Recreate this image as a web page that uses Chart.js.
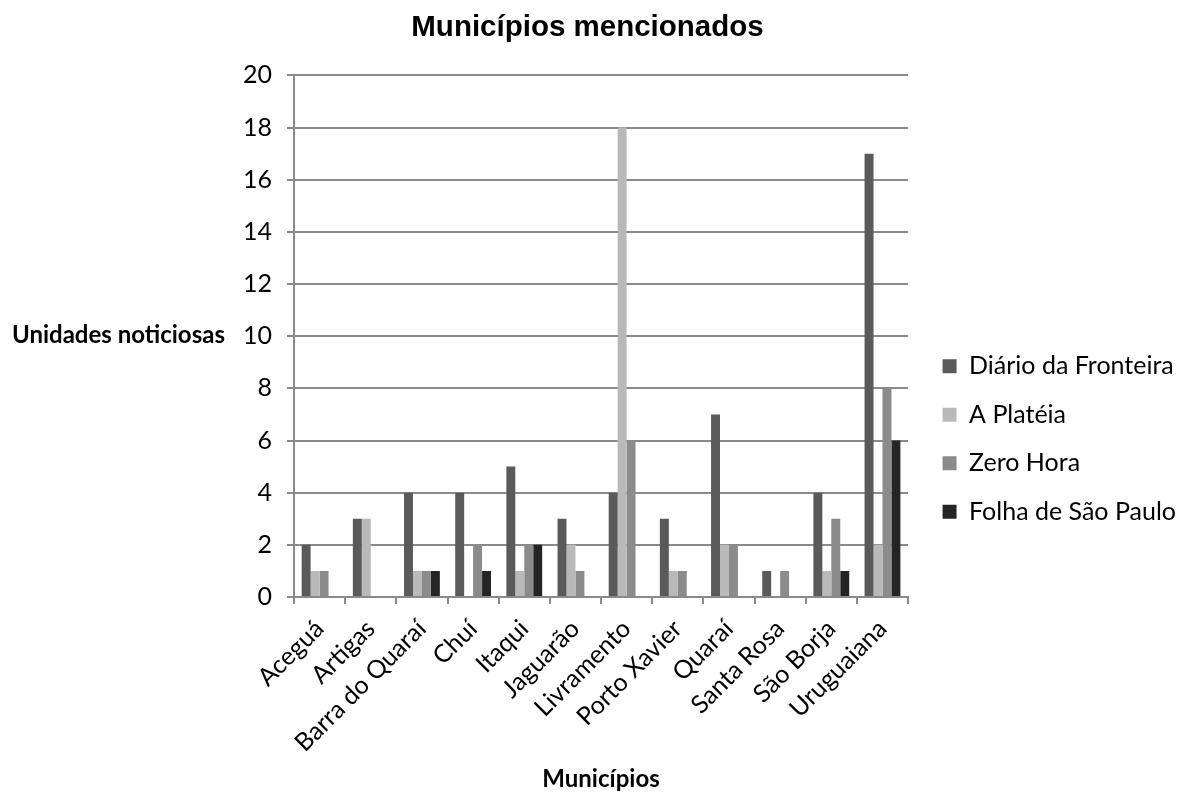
<!DOCTYPE html>
<html>
<head>
<meta charset="utf-8">
<script src="https://cdn.jsdelivr.net/npm/chart.js@4.4.1/dist/chart.umd.min.js"></script>
<style>
  html, body { margin: 0; padding: 0; background: #ffffff; }
  #wrap { width: 1180px; height: 794px; }
</style>
</head>
<body>
<div id="wrap"><canvas id="chart" width="1180" height="794"></canvas></div>
<script>
// Municípios e número de unidades noticiosas por jornal
const municipios = ['Aceguá', 'Artigas', 'Barra do Quaraí', 'Chuí', 'Itaqui', 'Jaguarão',
  'Livramento', 'Porto Xavier', 'Quaraí', 'Santa Rosa', 'São Borja', 'Uruguaiana'];
const diarioDaFronteira = [2, 3, 4, 4, 5, 3, 4, 3, 7, 1, 4, 17];
const aPlateia          = [1, 3, 1, 0, 1, 2, 18, 1, 2, 0, 1, 2];
const zeroHora          = [1, 0, 1, 2, 2, 1, 6, 1, 2, 1, 3, 8];
const folhaDeSaoPaulo   = [0, 0, 1, 1, 2, 0, 0, 0, 0, 0, 1, 6];
const serieNomes = ['Diário da Fronteira', 'A Platéia', 'Zero Hora', 'Folha de São Paulo'];
const yTicks = [0, 2, 4, 6, 8, 10, 12, 14, 16, 18, 20];

const FONT = 'Lato, "Liberation Sans", sans-serif';
const TITLE_FONT = '"Liberation Sans", Arial, sans-serif';
const GRID = '#8a8a8a';

// Horizontal title for the value axis, written to the left of the tick labels
const yAxisTitle = {
  id: 'yAxisTitle',
  afterDraw(chart) {
    const { ctx, chartArea } = chart;
    ctx.save();
    ctx.font = 'bold 24px ' + FONT;
    ctx.fillStyle = '#000';
    ctx.textAlign = 'left';
    ctx.textBaseline = 'middle';
    ctx.fillText('Unidades noticiosas', 12, (chartArea.top + chartArea.bottom) / 2 - 1);
    ctx.restore();
  }
};

// Moves the legend block to its place beside the plot
const legendPlacement = {
  id: 'legendPlacement',
  afterLayout(chart) {
    const lg = chart.legend;
    if (!lg) return;
    const dx = 11, dy = 42;
    lg.left += dx; lg.right += dx;
    lg.top += dy; lg.bottom += dy;
  }
};

new Chart(document.getElementById('chart'), {
  type: 'bar',
  data: {
    labels: municipios,
    datasets: [
      { label: serieNomes[0], data: diarioDaFronteira, backgroundColor: '#5a5a5a' },
      { label: serieNomes[1], data: aPlateia,          backgroundColor: '#b9b9b9' },
      { label: serieNomes[2], data: zeroHora,          backgroundColor: '#8b8b8b' },
      { label: serieNomes[3], data: folhaDeSaoPaulo,   backgroundColor: '#252525' }
    ]
  },
  options: {
    responsive: false,
    animation: false,
    layout: { padding: { left: 0, right: 5, top: 0, bottom: 0 } },
    datasets: { bar: { categoryPercentage: 0.70, barPercentage: 1.0 } },
    plugins: {
      title: {
        display: true,
        text: 'Municípios mencionados',
        fullSize: true,
        color: '#000',
        font: { family: TITLE_FONT, size: 29.5, weight: 'bold' },
        padding: { top: 10, bottom: 30 }
      },
      legend: {
        position: 'right',
        align: 'center',
        labels: {
          color: '#000',
          font: { family: FONT, size: 25 },
          boxWidth: 14,
          boxHeight: 14,
          padding: 23.5
        }
      },
      tooltip: { enabled: false }
    },
    scales: {
      x: {
        offset: true,
        grid: { display: true, drawOnChartArea: false, drawTicks: true, tickLength: 7, color: GRID, lineWidth: 2, offset: true },
        border: { display: true, color: GRID, width: 2 },
        ticks: { color: '#000', font: { family: FONT, size: 25 }, minRotation: 45, maxRotation: 45, autoSkip: false, padding: 10 },
        title: { display: true, text: 'Municípios', color: '#000', font: { family: FONT, size: 24, weight: 'bold' }, padding: { top: 0, bottom: 0 } },
        afterFit(scale) { scale.height = 197; }
      },
      y: {
        min: yTicks[0],
        max: yTicks[yTicks.length - 1],
        afterBuildTicks(scale) { scale.ticks = yTicks.map(v => ({ value: v })); },
        grid: { color: GRID, lineWidth: 2, tickLength: 7 },
        border: { display: true, color: GRID, width: 2 },
        ticks: { color: '#000', font: { family: FONT, size: 25 }, padding: 15 },
        afterFit(scale) { scale.width = 294; }
      }
    }
  },
  plugins: [yAxisTitle, legendPlacement]
});
</script>
</body>
</html>
